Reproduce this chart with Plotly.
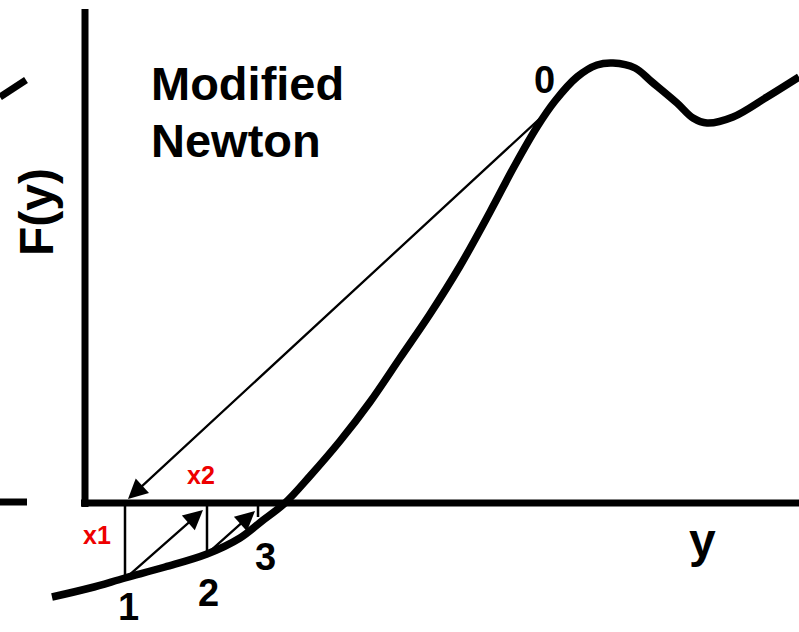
import plotly.graph_objects as go

# Diagram coordinates (image-like units: x to the right, y downward)
curve_x = [52, 90, 125, 165, 207, 240, 262, 285, 310, 340, 370, 400, 430, 460, 490,
           515, 537, 555, 577, 597, 613, 635, 652, 677, 693, 707, 733, 767, 799]
curve_y = [597, 588, 578, 567, 554, 538, 521, 503, 476, 441, 402, 358, 314, 266, 212,
           165, 127, 101, 77, 65, 63, 68, 82, 103, 118, 123, 117, 97, 77]

# axes of the diagram
vaxis_x = [85, 85]
vaxis_y = [9, 507]
haxis_x = [81, 799]
haxis_y = [503, 503]
# fragments of the neighbouring panel
frag_h_x = [0, 27]
frag_h_y = [502, 502]
frag_c_x = [0, 26]
frag_c_y = [97, 80]

# iteration construction
drop_x = [[125, 125], [207, 207], [258, 258]]
drop_y = [[504, 578], [504, 554], [504, 517]]
# arrows: (tail_x, tail_y, tip_x, tip_y)
arrow_tail_x = [547, 127, 208]
arrow_tail_y = [112, 577, 553]
arrow_tip_x = [128, 203, 255]
arrow_tip_y = [499, 510, 511]

# labels
iter_labels = ["0", "1", "2", "3"]
iter_x = [544, 128, 208, 265]
iter_y = [80, 607, 593, 557]
red_labels = ["x1", "x2"]
red_x = [97, 201]
red_y = [535, 475]

W, H = 799, 632

fig = go.Figure()
thick = dict(color="black", width=7)
for xs, ys in [(vaxis_x, vaxis_y), (haxis_x, haxis_y), (frag_h_x, frag_h_y), (frag_c_x, frag_c_y)]:
    fig.add_trace(go.Scatter(x=xs, y=ys, mode="lines", line=thick, hoverinfo="skip"))

for xs, ys in zip(drop_x, drop_y):
    fig.add_trace(go.Scatter(x=xs, y=ys, mode="lines", line=dict(color="black", width=2.5),
                             hoverinfo="skip"))

fig.add_trace(go.Scatter(x=curve_x, y=curve_y, mode="lines",
                         line=dict(color="black", width=7.5, shape="spline", smoothing=1.0),
                         hoverinfo="skip"))

for tx, ty, hx, hy in zip(arrow_tail_x, arrow_tail_y, arrow_tip_x, arrow_tip_y):
    fig.add_annotation(x=hx, y=hy, ax=tx, ay=ty, xref="x", yref="y", axref="x", ayref="y",
                       text="", showarrow=True, arrowhead=2, arrowsize=1.7, arrowwidth=2.3,
                       arrowcolor="black", standoff=0, startstandoff=0)

font_main = "Liberation Sans, Arial, sans-serif"
for t, x, y in zip(iter_labels, iter_x, iter_y):
    fig.add_annotation(x=x, y=y, text="<b>%s</b>" % t, showarrow=False,
                       font=dict(family=font_main, size=38, color="black"),
                       xanchor="center", yanchor="middle")

for t, x, y in zip(red_labels, red_x, red_y):
    fig.add_annotation(x=x, y=y, text="<b>%s</b>" % t, showarrow=False,
                       font=dict(family=font_main, size=25, color="#ee0000"),
                       xanchor="center", yanchor="middle")

fig.add_annotation(x=149, y=83, text="<b>Modified</b>", showarrow=False,
                   font=dict(family=font_main, size=47, color="black"),
                   xanchor="left", yanchor="middle")
fig.add_annotation(x=149, y=140, text="<b>Newton</b>", showarrow=False,
                   font=dict(family=font_main, size=47, color="black"),
                   xanchor="left", yanchor="middle")
fig.add_annotation(x=702, y=540, text="<b>y</b>", showarrow=False,
                   font=dict(family=font_main, size=48, color="black"),
                   xanchor="center", yanchor="middle")
fig.add_annotation(x=36, y=212, text="<b>F(y)</b>", showarrow=False, textangle=-90,
                   font=dict(family=font_main, size=48, color="black"),
                   xanchor="center", yanchor="middle")

fig.update_layout(width=W, height=H, margin=dict(l=0, r=0, t=0, b=0),
                  paper_bgcolor="white", plot_bgcolor="white", showlegend=False,
                  xaxis=dict(range=[0, W], visible=False, fixedrange=True),
                  yaxis=dict(range=[H, 0], visible=False, fixedrange=True))

fig.write_html("out.html", config={"displayModeBar": False},
               post_script="document.body.style.margin='0px';document.body.style.overflow='hidden';")
